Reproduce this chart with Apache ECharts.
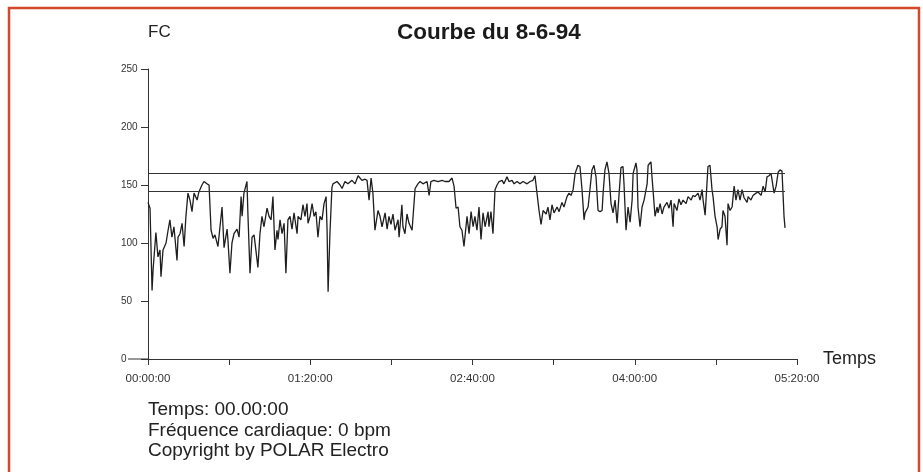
<!DOCTYPE html>
<html>
<head>
<meta charset="utf-8">
<script src="https://cdn.jsdelivr.net/npm/echarts@6/dist/echarts.min.js"></script>
<style>
html,body{margin:0;padding:0;background:#fff;}
#c{width:923px;height:472px;}
</style>
</head>
<body>
<div id="c"></div>
<script>
// Time in minutes since start
const minutes = [0,1.0,2.0,2.5,3.9,4.9,5.9,6.4,7.4,8.9,9.9,10.8,11.8,12.8,14.3,14.8,15.8,16.8,17.8,18.7,19.7,20.7,21.7,22.7,24.2,25.1,26.6,27.6,29.1,30.1,31.1,32.1,33.0,34.5,35.5,36.5,37.5,39.0,39.4,40.4,41.4,42.4,43.9,44.9,45.9,46.4,47.3,48.8,49.3,50.3,51.3,52.3,54.2,55.2,56.2,57.2,58.7,59.7,60.7,61.6,62.6,63.6,64.1,65.1,66.1,67.1,68.0,69.0,70.0,71.0,72.0,73.5,74.0,75.4,76.4,77.4,78.4,78.9,79.9,80.9,81.9,82.8,83.8,84.8,85.8,86.8,87.8,88.3,88.8,89.7,90.7,91.2,93.2,94.7,95.7,97.1,98.6,100.6,102.1,103.6,105.5,107.0,108.0,109.0,110.0,110.9,111.9,113.4,114.4,115.4,116.9,117.9,118.8,119.8,120.8,121.8,123.3,123.8,125.2,125.7,126.7,127.7,128.7,130.2,130.7,131.7,133.1,134.1,135.6,137.6,138.6,139.5,141.0,143.0,145.0,146.4,148.4,149.9,150.9,151.9,152.9,153.8,154.8,155.8,157.3,158.3,159.3,160.3,161.2,162.2,163.2,164.2,165.2,166.2,167.7,168.1,169.1,170.1,171.1,172.1,173.1,174.6,175.5,177.0,178.0,179.5,180.5,182.0,183.4,184.9,186.9,188.4,189.8,190.8,191.8,192.8,193.8,194.8,196.3,197.2,198.2,199.2,200.2,201.7,202.7,204.1,205.1,206.6,207.6,208.6,209.6,210.6,212.0,213.0,214.0,215.0,215.5,217.0,217.9,218.9,219.9,220.9,221.9,222.9,223.9,224.4,225.3,226.3,227.3,228.3,229.3,230.3,231.3,232.3,233.2,234.2,234.7,235.7,236.7,237.7,238.7,239.2,240.6,241.1,241.6,242.6,243.6,244.6,246.1,246.6,248.0,248.5,249.0,250.0,251.0,251.5,252.5,253.5,254.4,255.9,256.9,257.9,258.9,259.4,260.8,261.8,262.8,263.8,265.3,266.3,267.8,268.7,269.7,271.2,272.2,273.2,273.7,274.7,275.6,276.1,277.1,278.1,278.6,279.6,280.6,281.1,282.1,283.0,283.5,284.5,285.5,286.0,287.0,288.0,289.0,289.9,290.9,291.9,292.9,293.9,295.4,295.9,297.3,298.3,299.8,300.8,302.3,303.3,304.3,305.2,306.2,307.2,307.7,308.7,309.7,310.7,311.6,312.6,313.1,313.6,314.1];
// Heart rate (bpm)
const heartRate = [135,130,59,77,109,88,94,71,94,100,111,120,105,114,85,105,108,117,97,123,143,137,127,143,137,144,150,153,151,150,111,104,107,97,114,131,96,112,103,74,100,108,112,105,140,123,143,153,123,74,105,107,79,108,123,114,130,123,120,140,94,111,103,120,108,117,74,120,123,112,126,108,123,120,133,123,134,117,123,134,123,127,105,123,120,134,140,111,58,108,148,151,153,150,147,153,151,154,151,158,154,155,154,137,156,143,111,128,123,114,126,112,123,116,125,111,120,105,133,114,108,125,117,111,110,147,151,153,151,153,141,153,154,153,154,153,153,156,149,130,131,114,111,97,123,108,127,114,123,111,131,103,126,114,127,114,127,108,146,150,153,154,151,157,153,154,151,153,151,153,151,153,154,158,143,128,116,128,125,131,120,133,126,131,127,135,131,140,143,141,146,160,167,166,146,120,126,131,146,163,167,157,128,127,128,143,163,170,160,134,126,137,117,143,165,166,151,111,131,118,137,160,169,163,131,114,131,137,151,167,170,157,146,123,131,126,134,125,131,135,130,137,114,134,128,138,133,137,134,140,137,141,140,143,137,146,137,124,151,166,167,146,140,123,114,103,112,114,128,123,98,134,128,131,149,137,146,137,146,139,135,140,137,141,143,144,141,149,144,157,158,160,160,143,149,161,163,162,143,123,113];
// Reference limits (bpm)
const limits = [160, 145];
// Axis ranges
const xMaxMinutes = 320;
const yMax = 250;

function fmtTime(m){
  const h = Math.floor(m/60), mm = m%60;
  return String(h).padStart(2,'0')+':'+String(mm).padStart(2,'0')+':00';
}

const seriesData = minutes.map((m,i)=>[m, heartRate[i]]);
const endMin = minutes[minutes.length-1];

const chart = echarts.init(document.getElementById('c'), null, {renderer:'canvas'});
const FONT = '"Liberation Sans", Arial, sans-serif';
chart.setOption({
  animation:false,
  backgroundColor:'#ffffff',
  title:{
    text:'Courbe du 8-6-94',
    left:397, top:21, padding:0,
    textStyle:{fontFamily:FONT, fontWeight:'bold', fontSize:22.5, color:'#1a1a1a'}
  },
  grid:{left:148, right:126, top:69, bottom:113, containLabel:false},
  xAxis:{
    type:'value', min:0, max:xMaxMinutes, interval:40,
    name:'Temps', nameLocation:'end', nameGap:26,
    nameTextStyle:{fontFamily:FONT, fontSize:18, color:'#222', verticalAlign:'middle'},
    axisLine:{lineStyle:{color:'#333', width:1}},
    axisTick:{length:6, lineStyle:{color:'#333'}},
    axisLabel:{margin:14, fontFamily:FONT, fontSize:11.5, color:'#333',
      formatter:(v)=> (v%80===0 ? fmtTime(v) : '')},
    splitLine:{show:false}
  },
  yAxis:{
    type:'value', min:0, max:yMax, interval:50,
    name:'FC', nameLocation:'end', nameGap:28,
    nameTextStyle:{fontFamily:FONT, fontSize:17, color:'#222', align:'left'},
    axisLine:{show:true, lineStyle:{color:'#333', width:1}},
    axisTick:{show:true, length:7, lineStyle:{color:'#333'}},
    axisLabel:{margin:27, align:'left', fontFamily:FONT, fontSize:10, color:'#333'},
    splitLine:{show:false}
  },
  series:[{
    type:'line',
    data:seriesData,
    showSymbol:false,
    symbol:'none',
    lineStyle:{color:'#1e1e1e', width:1.3},
    markLine:{
      silent:true, symbol:'none', label:{show:false},
      lineStyle:{color:'#333', width:1.2, type:'solid'},
      data: limits.map(v=>[{coord:[0,v]},{coord:[endMin,v]}])
    }
  }],
  graphic:[
    {type:'rect', shape:{x:9, y:8, width:910, height:490}, style:{fill:null, stroke:'#d4482b', lineWidth:2.5}, silent:true},
    {type:'text', left:148, top:400, style:{text:'Temps: 00.00:00\nFréquence cardiaque: 0 bpm\nCopyright by POLAR Electro', fontFamily:FONT, fontSize:19, lineHeight:20.3, fill:'#222'}}
  ]
});
// extend x-axis line a little to the left of the y-axis, as in the original print
const p0 = chart.convertToPixel({gridIndex:0}, [0,0]);
chart.setOption({graphic:[{},{},{type:'line', shape:{x1:p0[0]-20, y1:p0[1], x2:p0[0], y2:p0[1]}, style:{stroke:'#333', lineWidth:1}, silent:true}]});
</script>
</body>
</html>
